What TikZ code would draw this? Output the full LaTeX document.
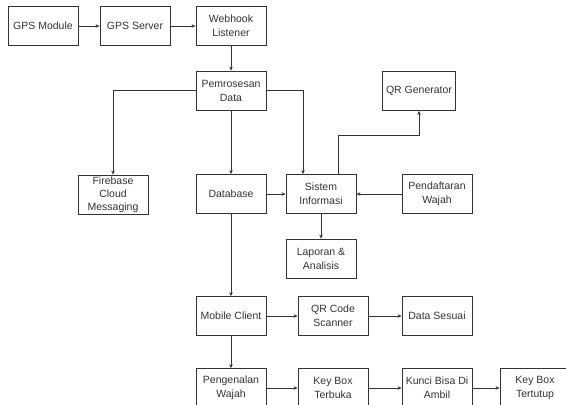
\documentclass[tikz,border=0pt]{standalone}
\usepackage{fontspec}
\setmainfont{Liberation Sans}
\usetikzlibrary{arrows.meta,positioning}

\definecolor{inkgray}{HTML}{333333}

\begin{document}
\begin{tikzpicture}[
      x = 1pt, y = -1pt,
      > = {Stealth[length=4pt,width=3.5pt]},
      semithick,
      draw = inkgray]

      \tikzset{
      block/.style = {
      draw = inkgray,
      text = inkgray,
      thick,
      fill = white,
      minimum width = 70pt,
      minimum height = 39pt,
      align = center,
      font = \fontsize{10.5}{14}\selectfont}}

      \useasboundingbox (0,0) rectangle (566,405);
      \clip (0,0) rectangle (566,405);

      % top row
      \node[block] (gpsmod) at (43,26) {GPS Module};
      \node[block] (gpsserv) at (135,26) {GPS Server};
      \node[block] (webhook) at (231,26) {Webhook\\Listener};
      \node[block] (proses) at (231,90.5) {Pemrosesan\\Data};
      \node[block] (qrgen) at (419,91) {QR Generator};

      % middle
      \node[block, inner ysep=0pt, font=\fontsize{10.5}{13}\selectfont] (firebase) at (113,194.5) {Firebase\\Cloud\\Messaging};
      \node[block] (database) at (231,194) {Database};
      \node[block] (sistem) at (321,194) {Sistem\\Informasi};
      \node[block] (daftar) at (437,194) {Pendaftaran\\Wajah};
      \node[block] (laporan) at (321,258.5) {Laporan \&\\Analisis};

      % client
      \node[block] (mobile) at (231,316) {Mobile Client};
      \node[block] (qrscan) at (333,316) {QR Code\\Scanner};
      \node[block] (sesuai) at (437,316) {Data Sesuai};

      % bottom row
      \node[block] (kenal) at (231,388) {Pengenalan\\Wajah};
      \node[block] (buka) at (333,388) {Key Box\\Terbuka};
      \node[block] (kunci) at (437,388) {Kunci Bisa Di\\Ambil};
      \node[block] (tutup) at (535,388) {Key Box\\Tertutup};

      \path[->, draw = inkgray]
      (gpsmod) edge (gpsserv)
      (gpsserv) edge (webhook)
      (webhook) edge (proses)
      (proses) edge (database)
      (database) edge (sistem)
      (daftar) edge (sistem)
      (sistem) edge (laporan)
      (database) edge (mobile)
      (mobile) edge (qrscan)
      (qrscan) edge (sesuai)
      (mobile) edge (kenal)
      (kenal) edge (buka)
      (buka) edge (kunci)
      (kunci) edge (tutup);

      \draw[->] (proses.west) -| (firebase.north);
      \draw[->] (proses.east) -| ([xshift=-18pt]sistem.north);
      \draw[->] ([xshift=17pt]sistem.north) -- ++(0,-39) -| (qrgen.south);
\end{tikzpicture}
\end{document}
